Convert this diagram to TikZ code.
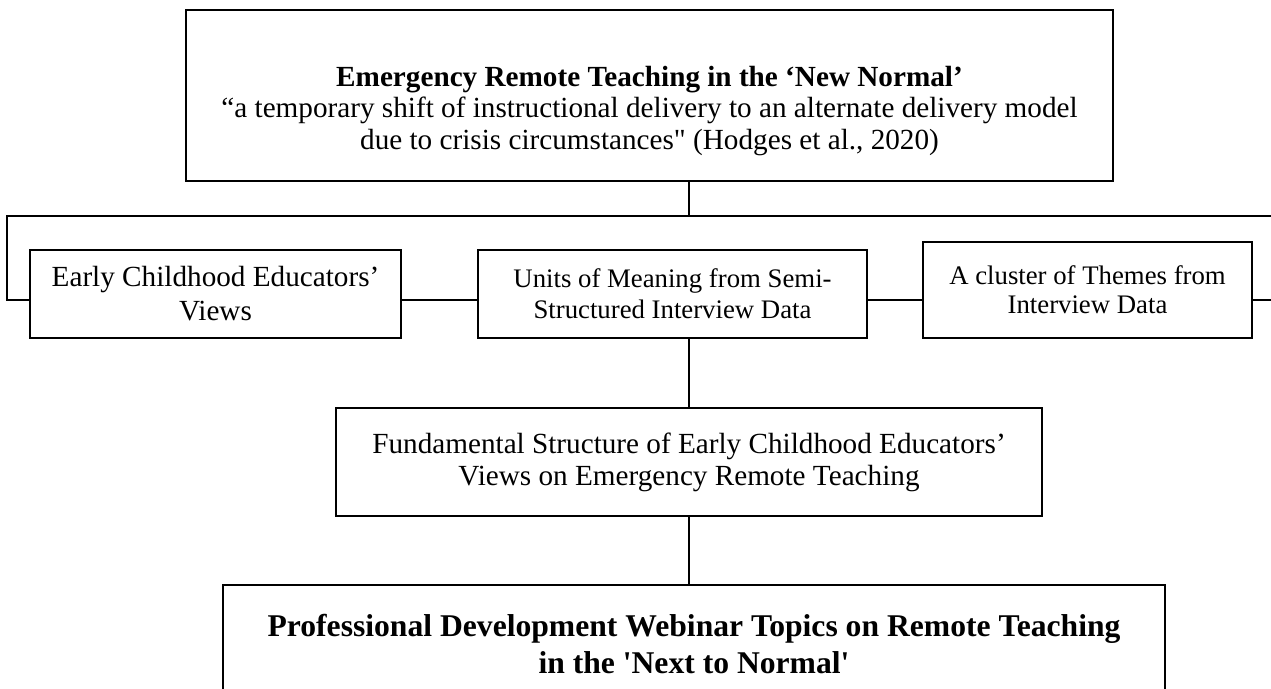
\documentclass[tikz,border=0pt]{standalone}
\usepackage{fontspec}
\setmainfont{Liberation Serif}[Ligatures=TeXOff]
\newcommand{\pxu}{0.411pt}

\begin{document}
\begin{tikzpicture}[
  x=\pxu, y=-\pxu,
  every node/.style={align=center, inner sep=0pt},
  frame/.style={draw=black, line width=0.6pt, fill=white},
  link/.style={draw=black, line width=0.45pt},
  txt/.style={font=\fontsize{12}{14}\selectfont},
  smalltxt/.style={font=\fontsize{11}{12.7}\selectfont}
]
\useasboundingbox (0,0) rectangle (1271,688);
\clip (0,0) rectangle (1271,688);
\node[frame, minimum width=927*\pxu, minimum height=171*\pxu] (ertBox) at (649.5,95.5) {};
\node[font=\fontsize{12}{12.8}\selectfont] (ert) at (649.5,111) {\textbf{Emergency Remote Teaching in the ‘New Normal’}\\“a temporary shift of instructional delivery to an alternate delivery model\\due to crisis circumstances" (Hodges et al., 2020)};
\node[frame, txt, minimum width=371*\pxu, minimum height=88*\pxu] (early) at (215.5,294) {Early Childhood Educators’\\Views};
\node[frame, smalltxt, minimum width=389*\pxu, minimum height=88*\pxu] (units) at (672.5,294) {Units of Meaning from Semi-\\Structured Interview Data};
\node[frame, font=\fontsize{11}{11.8}\selectfont, minimum width=329*\pxu, minimum height=96*\pxu] (themes) at (1087.5,290) {A cluster of Themes from\\Interview Data};
\node[frame, font=\fontsize{12}{13.2}\selectfont, minimum width=706*\pxu, minimum height=108*\pxu] (fund) at (689,462) {Fundamental Structure of Early Childhood Educators’\\Views on Emergency Remote Teaching};
\node[frame, font=\fontsize{13}{15.2}\selectfont\bfseries, minimum width=942*\pxu, minimum height=118*\pxu] (webinar) at (694,644) {Professional Development Webinar Topics on Remote Teaching\\in the 'Next to Normal'};
\coordinate (busL) at (7,216);
\coordinate (busR) at (1271,216);
\coordinate (row) at (0,300);
\coordinate (rowR) at (1271,300);
\draw[link] (ertBox.south -| fund.north) -- (busL -| fund.north);
\draw[link] (busR) -- (busL) -- (busL |- row) -- (early.west |- row);
\draw[link] (early.east |- row) -- (units.west |- row);
\draw[link] (units.east |- row) -- (themes.west |- row);
\draw[link] (themes.east |- row) -- (rowR);
\draw[link] (units.south -| fund.north) -- (fund.north);
\draw[link] (fund.south) -- (fund.south |- webinar.north);
\end{tikzpicture}
\end{document}
